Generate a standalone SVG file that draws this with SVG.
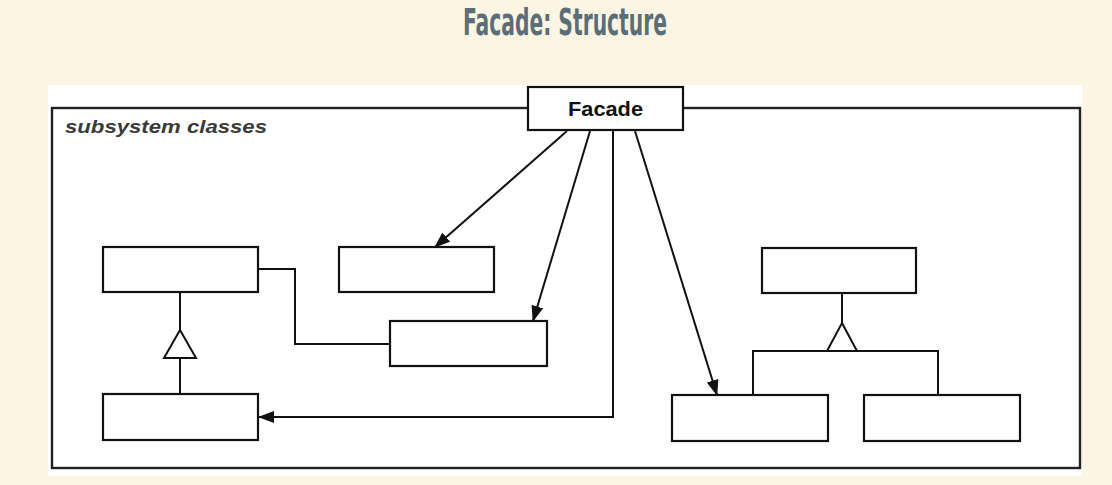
<svg xmlns="http://www.w3.org/2000/svg" width="1112" height="485" viewBox="0 0 1112 485">
<defs>
<style>
.box{fill:#fff;stroke:#111;stroke-width:2.2}
.ln{fill:none;stroke:#111;stroke-width:2}
.tri{fill:#fff;stroke:#111;stroke-width:2}
</style>
<marker id="ah" viewBox="0 0 16 12" refX="15" refY="6" markerWidth="16" markerHeight="12" markerUnits="userSpaceOnUse" orient="auto">
<path d="M0,0 L16,6 L0,12 Z" fill="#111"/>
</marker>
</defs>
<rect x="0" y="0" width="1112" height="485" fill="#fdf5e3"/>
<text x="565" y="35" text-anchor="middle" font-family="DejaVu Sans Condensed, DejaVu Sans, sans-serif" font-weight="bold" font-size="38" fill="#5b6d77" textLength="204" lengthAdjust="spacingAndGlyphs">Facade: Structure</text>
<rect x="48" y="85" width="1034" height="391" fill="#fff"/>
<g id="frame">
<rect x="52" y="108" width="1028" height="360" fill="none" stroke="#222" stroke-width="2.4"/>
<text x="65" y="133" font-family="Liberation Sans, Arial, sans-serif" font-style="italic" font-weight="bold" font-size="18" fill="#3a3a3a" textLength="202" lengthAdjust="spacingAndGlyphs">subsystem classes</text>
</g>
<g id="connectors">
<line class="ln" x1="567" y1="131" x2="435" y2="247" marker-end="url(#ah)"/>
<line class="ln" x1="590" y1="131" x2="533" y2="321" marker-end="url(#ah)"/>
<polyline class="ln" points="613,131 613,417 259,417" marker-end="url(#ah)"/>
<line class="ln" x1="635" y1="131" x2="717" y2="395" marker-end="url(#ah)"/>
<polyline class="ln" points="258,269 295,269 295,344 390,344"/>
<line class="ln" x1="180" y1="292" x2="180" y2="330"/>
<line class="ln" x1="180" y1="358" x2="180" y2="394"/>
<polygon class="tri" points="180,330 196,358 164,358"/>
<line class="ln" x1="842" y1="293" x2="842" y2="323"/>
<polyline class="ln" points="753,395 753,351 938,351 938,395"/>
<polygon class="tri" points="842,323 857,351 827,351"/>
</g>
<g id="facade">
<rect class="box" x="528" y="87" width="155" height="43"/>
<text x="605.5" y="116" text-anchor="middle" font-family="Liberation Sans, Arial, sans-serif" font-weight="bold" font-size="20" fill="#111" textLength="75" lengthAdjust="spacingAndGlyphs">Facade</text>
</g>
<g id="classA"><rect class="box" x="103" y="247" width="155" height="45"/></g>
<g id="classB"><rect class="box" x="103" y="394" width="155" height="46"/></g>
<g id="classC"><rect class="box" x="339" y="247" width="155" height="45"/></g>
<g id="classD"><rect class="box" x="390" y="321" width="157" height="45"/></g>
<g id="classE"><rect class="box" x="762" y="248" width="154" height="45"/></g>
<g id="classF"><rect class="box" x="672" y="395" width="156" height="46"/></g>
<g id="classG"><rect class="box" x="864" y="395" width="156" height="46"/></g>
</svg>
